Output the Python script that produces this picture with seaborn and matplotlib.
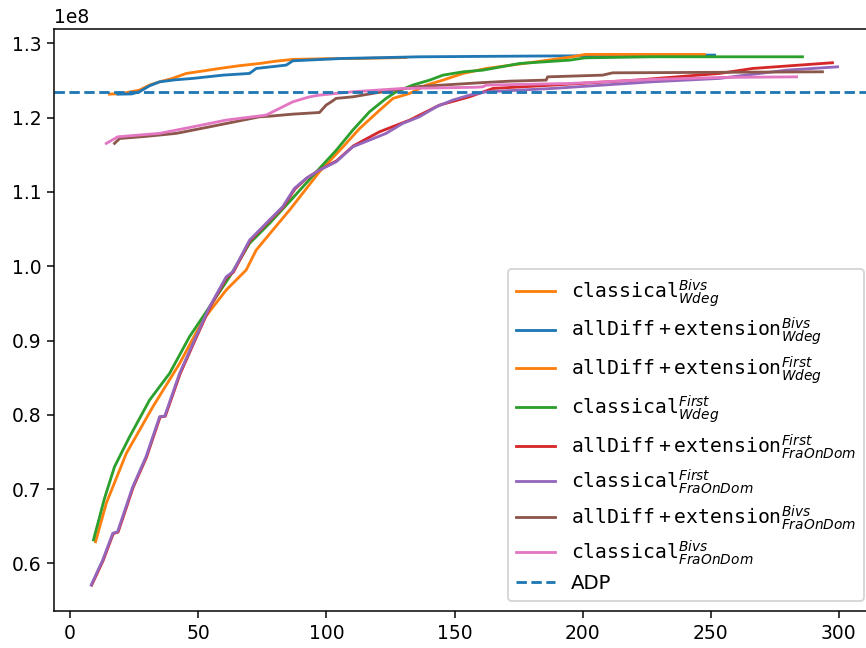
import matplotlib
matplotlib.use("Agg")
import matplotlib.pyplot as plt
import seaborn as sns

# objective values are in units of 1e8
SCALE = 1e8

# classical, Bivs, Wdeg
cls_bivs_wdeg_x = [15.3, 20, 27, 31, 34.9, 40, 45.3, 52, 58.3, 66, 73.9, 80, 86.9, 100, 113, 131]
cls_bivs_wdeg_y = [1.2317, 1.2325, 1.2371, 1.2440, 1.2483, 1.2530, 1.2596, 1.2630, 1.2663, 1.2700,
                   1.2730, 1.2760, 1.2785, 1.2795, 1.2798, 1.2810]

# allDiff+extension, Bivs, Wdeg
ad_bivs_wdeg_x = [18.6, 24, 27, 31, 34.9, 41, 47.9, 59.6, 70, 72.6, 84.3, 86.9, 106.5, 126, 136.3, 180, 251.5]
ad_bivs_wdeg_y = [1.2317, 1.2320, 1.2349, 1.2430, 1.2483, 1.2510, 1.2529, 1.2573, 1.2596, 1.2663,
                  1.2708, 1.2766, 1.2798, 1.2812, 1.2820, 1.2830, 1.2843]

# allDiff+extension, First, Wdeg
ad_first_wdeg_x = [9.9, 14.1, 21.9, 32.3, 42.7, 51.8, 60.9, 68.7, 72.6, 79.1, 85.6, 97.3, 106.5, 113,
                   120.8, 126, 132.5, 139, 145.5, 153.3, 162.4, 182, 196, 201, 247.5]
ad_first_wdeg_y = [0.629, 0.681, 0.748, 0.811, 0.869, 0.9275, 0.968, 0.995, 1.0218, 1.0488, 1.0756,
                   1.1272, 1.1608, 1.1856, 1.2102, 1.226, 1.2327, 1.2439, 1.2506, 1.2596, 1.2663,
                   1.2753, 1.282, 1.2852, 1.2852]

# classical, First, Wdeg
cls_first_wdeg_x = [9.1, 13.4, 17.3, 23.2, 31, 38.8, 46.6, 54.4, 62.2, 70, 77.8, 85.6, 97.3, 103.8,
                    110.3, 116.8, 123.3, 127.2, 133.7, 140.3, 145.5, 153.3, 161, 175.4, 195, 201, 227, 285.8]
cls_first_wdeg_y = [0.6316, 0.6875, 0.730, 0.7705, 0.8199, 0.8558, 0.9053, 0.9454, 0.9858, 1.0308,
                    1.0577, 1.087, 1.1317, 1.156, 1.1833, 1.2079, 1.226, 1.2349, 1.2439, 1.2506,
                    1.2573, 1.2618, 1.264, 1.273, 1.2775, 1.2806, 1.282, 1.282]

# allDiff+extension, First, FraOnDom
ad_first_fra_x = [8.4, 12.9, 16.8, 18.7, 24.6, 29.8, 35.1, 37.1, 42.9, 48.1, 54.6, 61.1, 63.7, 70.2,
                  78.0, 83.1, 87.7, 92.3, 97.5, 104.0, 110.5, 120.7, 132.5, 140.3, 144.2, 155.9, 165,
                  188.4, 220.9, 253.4, 266.4, 297.5]
ad_first_fra_y = [0.5708, 0.6040, 0.6400, 0.6420, 0.7025, 0.7430, 0.7970, 0.7980, 0.8550, 0.8955,
                  0.9450, 0.9850, 0.9920, 1.0345, 1.0620, 1.0795, 1.1040, 1.1185, 1.1300, 1.1420,
                  1.1620, 1.1810, 1.1968, 1.2103, 1.2170, 1.2282, 1.2394, 1.2439, 1.2506, 1.2596,
                  1.2663, 1.2740]

# classical, First, FraOnDom
cls_first_fra_x = [8.2, 12.7, 16.6, 18.5, 24.4, 29.6, 34.9, 36.9, 42.7, 47.9, 54.4, 60.9, 63.5, 70,
                   77.8, 82.9, 87.5, 92.1, 97.3, 103.8, 110.3, 116.8, 123.3, 129.8, 136.3, 142.9,
                   149.3, 155.9, 162.4, 188.4, 227, 253.4, 279.5, 299.5]
cls_first_fra_y = [0.5708, 0.6045, 0.6404, 0.6426, 0.703, 0.7435, 0.7974, 0.7983, 0.8558, 0.896,
                   0.9454, 0.9858, 0.9926, 1.0351, 1.0624, 1.08, 1.1048, 1.1183, 1.1295, 1.1406,
                   1.1608, 1.1698, 1.1789, 1.1923, 1.2012, 1.2147, 1.2237, 1.2304, 1.2349, 1.2394,
                   1.2483, 1.2529, 1.264, 1.2685]

# allDiff+extension, Bivs, FraOnDom
ad_bivs_fra_x = [17.3, 19.3, 30, 41.4, 54.4, 73.9, 77.8, 86.9, 97.3, 99.9, 101.9, 103.8, 110.3, 119.4,
                 136.3, 159.7, 171.5, 185.8, 186.3, 207.8, 211.7, 293.6]
ad_bivs_fra_y = [1.1654, 1.172, 1.1750, 1.1789, 1.1877, 1.2012, 1.2020, 1.2048, 1.2070, 1.2170,
                 1.2214, 1.226, 1.2281, 1.2335, 1.2420, 1.2470, 1.2492, 1.2506, 1.2550, 1.2573,
                 1.2604, 1.2618]

# classical, Bivs, FraOnDom
cls_bivs_fra_x = [14.1, 18.6, 34.9, 47.9, 60.9, 76.5, 81.7, 86.9, 93.4, 97.3, 110.3, 129.8, 158.5,
                  161, 162.4, 195, 227, 253.4, 283.5]
cls_bivs_fra_y = [1.1654, 1.1743, 1.1789, 1.1877, 1.1968, 1.2035, 1.2125, 1.2214, 1.2281, 1.2304,
                  1.2349, 1.2394, 1.2410, 1.2416, 1.2439, 1.2461, 1.2515, 1.2542, 1.255]

adp_value = 1.2348

labels = [
    r"$\mathtt{classical}^{Bivs}_{Wdeg}$",
    r"$\mathtt{allDiff+extension}^{Bivs}_{Wdeg}$",
    r"$\mathtt{allDiff+extension}^{First}_{Wdeg}$",
    r"$\mathtt{classical}^{First}_{Wdeg}$",
    r"$\mathtt{allDiff+extension}^{First}_{FraOnDom}$",
    r"$\mathtt{classical}^{First}_{FraOnDom}$",
    r"$\mathtt{allDiff+extension}^{Bivs}_{FraOnDom}$",
    r"$\mathtt{classical}^{Bivs}_{FraOnDom}$",
]
colors = ["#ff7f0e", "#1f77b4", "#ff7f0e", "#2ca02c", "#d62728", "#9467bd", "#8c564b", "#e377c2"]

series = [
    (cls_bivs_wdeg_x, cls_bivs_wdeg_y),
    (ad_bivs_wdeg_x, ad_bivs_wdeg_y),
    (ad_first_wdeg_x, ad_first_wdeg_y),
    (cls_first_wdeg_x, cls_first_wdeg_y),
    (ad_first_fra_x, ad_first_fra_y),
    (cls_first_fra_x, cls_first_fra_y),
    (ad_bivs_fra_x, ad_bivs_fra_y),
    (cls_bivs_fra_x, cls_bivs_fra_y),
]

plt.rcParams["font.size"] = 10
plt.rcParams["mathtext.fontset"] = "dejavusans"

fig = plt.figure(figsize=(866 / 135, 648 / 135), dpi=135)
ax = fig.add_axes([0.0627, 0.0571, 0.9465, 0.898])

for (xs, ys), lab, col in zip(series, labels, colors):
    sns.lineplot(x=xs, y=[v * SCALE for v in ys], color=col, label=lab, ax=ax,
                 sort=False, estimator=None, linewidth=1.5)

ax.axhline(adp_value * SCALE, color="#1f77b4", linestyle="--", linewidth=1.5, label="ADP")

ax.set_xlim(-6.2, 313.7)
ax.set_ylim(0.5358 * SCALE, 1.3193 * SCALE)
ax.set_xticks([0, 50, 100, 150, 200, 250, 300])
ax.set_yticks([0.6e8, 0.7e8, 0.8e8, 0.9e8, 1.0e8, 1.1e8, 1.2e8, 1.3e8])
ax.legend(loc="lower right", fontsize=10.5, labelspacing=0.35)

fig.savefig("out.png", dpi=135)
